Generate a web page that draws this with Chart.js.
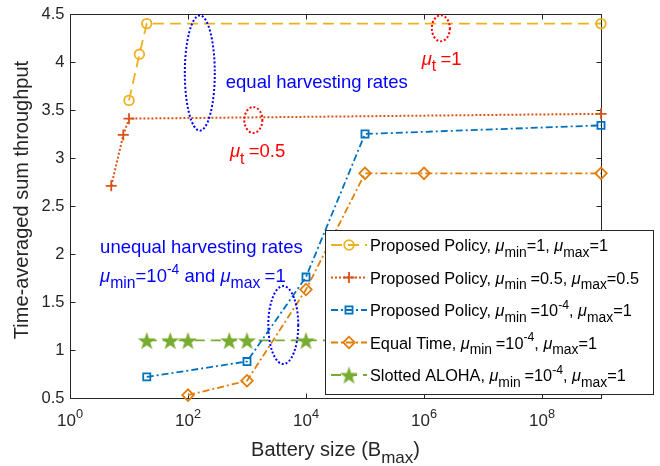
<!DOCTYPE html>
<html>
<head>
<meta charset="utf-8">
<script src="https://cdn.jsdelivr.net/npm/chart.js@4"></script>
<style>
  body { margin: 0; background: #fff; }
  canvas { display: block; }
</style>
</head>
<body>
<canvas id="chart" width="660" height="466"></canvas>
<script>
// battery sizes (x) and throughput (y) for each curve
const equalOneB = [10, 15, 20, 1e9];
const equalOneT = [3.6, 4.08, 4.4, 4.4];
const equalHalfB = [5, 8, 10, 1e9];
const equalHalfT = [2.71, 3.24, 3.41, 3.46];
const proposedB = [20, 1000, 1e4, 1e5, 1e9];
const proposedT = [0.72, 0.88, 1.76, 3.25, 3.34];
const equalTimeB = [100, 1000, 1e4, 1e5, 1e6, 1e9];
const equalTimeT = [0.53, 0.68, 1.63, 2.84, 2.84, 2.84];
const alohaB = [20, 50, 100, 500, 1000, 1e4, 1e5, 1e6, 1e9];
const alohaT = [1.1, 1.1, 1.1, 1.1, 1.1, 1.1, 1.1, 1.1, 1.1];

const xTickPowers = [0, 2, 4, 6, 8];
const yTicks = [0.5, 1, 1.5, 2, 2.5, 3, 3.5, 4, 4.5];

const FONT = '"Liberation Sans", Arial, sans-serif';
const AXIS = '#262626';

const toPoints = (bs, ts) => bs.map((b, i) => ({ x: b, y: ts[i] }));

// filled star used as marker for slotted aloha
const makeStar = (color, size) => {
  const c = document.createElement('canvas');
  c.width = c.height = size;
  const g = c.getContext('2d');
  g.beginPath();
  for (let i = 0; i < 10; i++) {
    const r = i % 2 ? size * 0.2 : size * 0.5;
    const a = -Math.PI / 2 + i * Math.PI / 5;
    g.lineTo(size / 2 + r * Math.cos(a), size / 2 + 1 + r * Math.sin(a));
  }
  g.closePath();
  g.fillStyle = color;
  g.fill();
  return c;
};
const star = makeStar('#77AC30', 19);

// text with mu / subscripts / superscripts
const fontFor = (k, size) => {
  if (k === 'mu') return [`italic ${size}px ${FONT}`, 0];
  if (k === 'sub') return [`${size * 0.85}px ${FONT}`, size * 0.35];
  if (k === 'sup') return [`${size * 0.75}px ${FONT}`, -size * 0.45];
  return [`${size}px ${FONT}`, 0];
};
const rich = (ctx, x, y, parts, size, color) => {
  ctx.fillStyle = color;
  ctx.textAlign = 'left';
  ctx.textBaseline = 'alphabetic';
  parts.forEach(([t, k]) => {
    const [f, dy] = fontFor(k, size);
    ctx.font = f;
    ctx.fillText(t, x, y + dy);
    x += ctx.measureText(t).width;
  });
  return x;
};
const richWidth = (ctx, parts, size) => {
  let w = 0;
  parts.forEach(([t, k]) => {
    ctx.font = fontFor(k, size)[0];
    w += ctx.measureText(t).width;
  });
  return w;
};

const datasets = [
  { label: 'eq1', data: toPoints(equalOneB, equalOneT), borderColor: '#EDB120',
    borderDash: [11, 6], pointStyle: 'circle', pointRadius: 4.8, lineWidth: 1.8 },
  { label: 'eq05', data: toPoints(equalHalfB, equalHalfT), borderColor: '#D95319',
    borderDash: [2, 2], pointStyle: 'cross', pointRadius: 5.5, lineWidth: 2 },
  { label: 'prop', data: toPoints(proposedB, proposedT), borderColor: '#0072BD',
    borderDash: [7, 3, 2, 3], pointStyle: 'rect', pointRadius: 5, lineWidth: 1.8 },
  { label: 'etime', data: toPoints(equalTimeB, equalTimeT), borderColor: '#E17D0A',
    borderDash: [7, 3, 2, 3], pointStyle: 'rectRot', pointRadius: 5.8, lineWidth: 1.8 },
  { label: 'aloha', data: toPoints(alohaB, alohaT), borderColor: '#77AC30',
    borderDash: [10, 6], pointStyle: star, pointRadius: 9, lineWidth: 1.8 }
].map(d => ({
  ...d,
  borderWidth: d.lineWidth,
  pointBorderColor: d.borderColor,
  pointBackgroundColor: 'rgba(0,0,0,0)',
  pointBorderWidth: 1.8,
  tension: 0,
  clip: false
}));

const legendRows = [
  [['Proposed Policy, '], ['\u03bc', 'mu'], ['min', 'sub'], ['=1, '], ['\u03bc', 'mu'], ['max', 'sub'], ['=1']],
  [['Proposed Policy, '], ['\u03bc', 'mu'], ['min ', 'sub'], ['=0.5, '], ['\u03bc', 'mu'], ['max', 'sub'], ['=0.5']],
  [['Proposed Policy, '], ['\u03bc', 'mu'], ['min ', 'sub'], ['=10'], ['-4', 'sup'], [', '], ['\u03bc', 'mu'], ['max', 'sub'], ['=1']],
  [['Equal Time, '], ['\u03bc', 'mu'], ['min ', 'sub'], ['=10'], ['-4', 'sup'], [', '], ['\u03bc', 'mu'], ['max', 'sub'], ['=1']],
  [['Slotted ALOHA, '], ['\u03bc', 'mu'], ['min ', 'sub'], ['=10'], ['-4', 'sup'], [', '], ['\u03bc', 'mu'], ['max', 'sub'], ['=1']]
];

// dotted rings: centre (log10 B, throughput), half-width in decades, half-height in throughput
const rings = [
  { c: [2.2, 3.885], r: [0.254, 0.6], color: '#0000FF' },
  { c: [3.107, 3.396], r: [0.153, 0.135], color: '#FF0000' },
  { c: [6.285, 4.351], r: [0.153, 0.135], color: '#FF0000' },
  { c: [3.615, 1.26], r: [0.254, 0.406], color: '#0000FF' }
];

const notes = [
  { at: [2.64, 3.73], color: '#0000FF', parts: [['equal harvesting rates']] },
  { at: [5.96, 3.97], color: '#FF0000', parts: [['\u03bc', 'mu'], ['t ', 'sub'], ['=1']] },
  { at: [2.71, 3.01], color: '#FF0000', parts: [['\u03bc', 'mu'], ['t ', 'sub'], ['=0.5']] },
  { at: [0.51, 2.01], color: '#0000FF', parts: [['unequal harvesting rates']] },
  { at: [0.51, 1.71], color: '#0000FF', parts: [['\u03bc', 'mu'], ['min', 'sub'], ['=10'], ['-4', 'sup'], [' and '], ['\u03bc', 'mu'], ['max ', 'sub'], ['=1']] }
];

const frame = {
  id: 'frame',
  beforeDatasetsDraw(chart) {
    const { ctx, chartArea: a, scales: { x, y } } = chart;
    ctx.save();
    ctx.strokeStyle = AXIS;
    ctx.lineWidth = 1;
    const L = Math.round(a.left) + 0.5, R = Math.round(a.right) + 0.5;
    const T = Math.round(a.top) + 0.5, B = Math.round(a.bottom) + 0.5;
    ctx.strokeRect(L, T, R - L, B - T);
    ctx.beginPath();
    xTickPowers.forEach(p => {
      const px = Math.round(x.getPixelForValue(Math.pow(10, p))) + 0.5;
      ctx.moveTo(px, B); ctx.lineTo(px, B - 5);
      ctx.moveTo(px, T); ctx.lineTo(px, T + 5);
    });
    yTicks.forEach(v => {
      const py = Math.round(y.getPixelForValue(v)) + 0.5;
      ctx.moveTo(L, py); ctx.lineTo(L + 5, py);
      ctx.moveTo(R, py); ctx.lineTo(R - 5, py);
    });
    ctx.stroke();

    // tick labels
    ctx.fillStyle = AXIS;
    ctx.font = `16.5px ${FONT}`;
    ctx.textAlign = 'right';
    ctx.textBaseline = 'middle';
    yTicks.forEach(v => ctx.fillText(String(v), L - 6, y.getPixelForValue(v)));
    xTickPowers.forEach(p => {
      const parts = [['10'], [String(p), 'sup']];
      const w = richWidth(ctx, parts, 17);
      rich(ctx, x.getPixelForValue(Math.pow(10, p)) - w / 2, B + 27, parts, 17, AXIS);
    });

    // axis titles
    const xt = [['Battery size (B'], ['max', 'sub'], [')']];
    const xw = richWidth(ctx, xt, 20);
    rich(ctx, (a.left + a.right) / 2 - xw / 2, 456, xt, 20, AXIS);
    ctx.save();
    ctx.translate(28, (a.top + a.bottom) / 2 - 6);
    ctx.rotate(-Math.PI / 2);
    ctx.font = `20px ${FONT}`;
    ctx.textAlign = 'center';
    ctx.textBaseline = 'alphabetic';
    ctx.fillStyle = AXIS;
    ctx.fillText('Time-averaged sum throughput', 0, 0);
    ctx.restore();
    ctx.restore();
  },
  afterDatasetsDraw(chart) {
    const { ctx, scales: { x, y } } = chart;
    const X = lg => x.getPixelForValue(Math.pow(10, lg));
    ctx.save();

    rings.forEach(r => {
      const cx = X(r.c[0]), cy = y.getPixelForValue(r.c[1]);
      const rx = X(r.c[0] + r.r[0]) - cx;
      const ry = y.getPixelForValue(r.c[1] - r.r[1]) - cy;
      ctx.beginPath();
      ctx.ellipse(cx, cy, rx, ry, 0, 0, Math.PI * 2);
      ctx.setLineDash([2, 2]);
      ctx.lineWidth = 2;
      ctx.strokeStyle = r.color;
      ctx.stroke();
    });
    ctx.setLineDash([]);

    notes.forEach(n => rich(ctx, X(n.at[0]), y.getPixelForValue(n.at[1]), n.parts, 18.5, n.color));

    // legend box
    const bx = 325.5, by = 230.5, bw = 328, bh = 164;
    ctx.fillStyle = '#fff';
    ctx.fillRect(bx, by, bw, bh);
    ctx.strokeStyle = AXIS;
    ctx.lineWidth = 1;
    ctx.strokeRect(bx, by, bw, bh);
    datasets.forEach((d, i) => {
      const ry = 245 + i * 32.5;
      ctx.beginPath();
      ctx.setLineDash(d.borderDash);
      ctx.strokeStyle = d.borderColor;
      ctx.lineWidth = d.borderWidth;
      ctx.moveTo(331, ry); ctx.lineTo(367, ry);
      ctx.stroke();
      ctx.setLineDash([]);
      if (typeof d.pointStyle === 'string') {
        ctx.fillStyle = 'rgba(0,0,0,0)';
        ctx.strokeStyle = d.borderColor;
        ctx.lineWidth = 1.8;
        Chart.helpers.drawPoint(ctx, {
          pointStyle: d.pointStyle, radius: d.pointRadius, borderWidth: 1.8, rotation: 0
        }, 349, ry);
      } else {
        ctx.drawImage(d.pointStyle, 349 - d.pointStyle.width / 2, ry - d.pointStyle.height / 2);
      }
      rich(ctx, 370, ry + 6, legendRows[i], 16.3, '#000');
    });
    ctx.restore();
  }
};

new Chart(document.getElementById('chart'), {
  type: 'line',
  data: { datasets },
  options: {
    responsive: false,
    animation: false,
    layout: { padding: { left: 70, right: 59, top: 14, bottom: 68 } },
    plugins: { legend: { display: false }, tooltip: { enabled: false } },
    scales: {
      x: { type: 'logarithmic', min: 1, max: 1e9, display: false },
      y: { type: 'linear', min: 0.5, max: 4.5, display: false }
    }
  },
  plugins: [frame]
});
</script>
</body>
</html>
